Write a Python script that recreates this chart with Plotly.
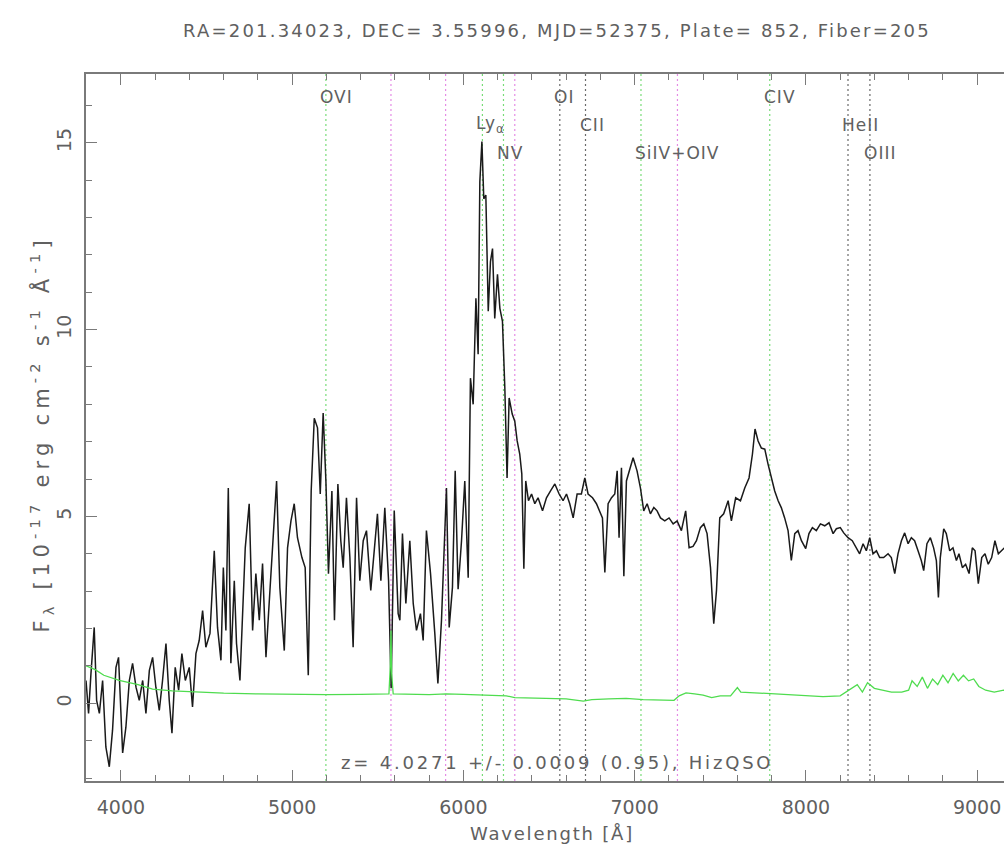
import plotly.graph_objects as go

# ---------------- data ----------------
wave = [3796, 3811, 3825, 3844, 3858, 3874, 3893, 3912, 3932, 3951, 3971, 3986, 4010, 4029, 4049,
        4068, 4088, 4107, 4127, 4146, 4166, 4185, 4204, 4224, 4243, 4263, 4282, 4298, 4317, 4337,
        4356, 4376, 4399, 4418, 4438, 4457, 4477, 4496, 4520, 4545, 4564, 4584, 4598, 4613, 4627,
        4642, 4662, 4675, 4695, 4710, 4726, 4749, 4769, 4788, 4808, 4827, 4847, 4862, 4885, 4909,
        4928, 4954, 4973, 4993, 5012, 5031, 5057, 5076, 5094, 5111, 5129, 5148, 5164, 5181, 5197,
        5212, 5232, 5247, 5267, 5284, 5298, 5317, 5337, 5356, 5376, 5395, 5415, 5434, 5459, 5479,
        5498, 5518, 5541, 5563, 5578, 5596, 5619, 5629, 5644, 5664, 5687, 5707, 5726, 5749, 5765,
        5784, 5808, 5833, 5851, 5872, 5888, 5901, 5917, 5936, 5952, 5969, 5989, 6008, 6028, 6041,
        6057, 6073, 6086, 6096, 6108, 6119, 6131, 6145, 6158, 6170, 6183, 6199, 6213, 6228, 6242,
        6255, 6267, 6285, 6300, 6314, 6329, 6341, 6353, 6364, 6380, 6398, 6417, 6436, 6462, 6485,
        6508, 6534, 6559, 6582, 6602, 6621, 6641, 6664, 6689, 6709, 6728, 6754, 6777, 6796, 6812,
        6826, 6845, 6865, 6884, 6898, 6909, 6923, 6937, 6952, 6972, 6991, 7014, 7034, 7053, 7073,
        7092, 7112, 7131, 7151, 7176, 7201, 7225, 7248, 7273, 7298, 7318, 7341, 7361, 7384, 7404,
        7423, 7443, 7462, 7478, 7497, 7520, 7546, 7565, 7590, 7618, 7643, 7668, 7688, 7703, 7721,
        7740, 7760, 7779, 7799, 7818, 7838, 7857, 7876, 7896, 7915, 7935, 7954, 7974, 7999, 8018,
        8038, 8061, 8085, 8110, 8135, 8159, 8178, 8201, 8221, 8246, 8271, 8295, 8314, 8334, 8353,
        8373, 8392, 8412, 8431, 8454, 8480, 8499, 8519, 8538, 8558, 8577, 8597, 8616, 8635, 8655,
        8674, 8688, 8707, 8727, 8746, 8762, 8774, 8785, 8805, 8820, 8840, 8859, 8879, 8894, 8914,
        8933, 8953, 8972, 8988, 9007, 9027, 9046, 9065, 9085, 9104, 9124, 9143, 9160, 9200]

flux = [0.61, -0.27, 0.80, 2.03, 0.08, -0.27, 0.61, -1.17, -1.70, -0.72, 0.96, 1.23, -1.33, -0.64, 0.61,
        1.07, 0.43, 0.08, 0.61, -0.27, 0.88, 1.23, 0.43, -0.19, 0.61, 1.60, 0.08, -0.80, 0.96, 0.35,
        1.33, 0.61, 0.96, -0.10, 1.33, 1.68, 2.48, 1.50, 1.87, 4.08, 2.03, 1.15, 3.63, 1.95, 5.76,
        1.07, 3.28, 1.60, 0.61, 2.40, 4.16, 5.34, 1.95, 3.47, 2.22, 3.74, 1.23, 2.40, 4.16, 5.95,
        3.10, 1.41, 4.16, 4.88, 5.34, 4.43, 3.90, 3.63, 0.75, 5.68, 7.63, 7.37, 5.60, 7.77, 5.95,
        3.47, 5.68, 2.22, 5.87, 4.35, 3.63, 5.50, 3.90, 1.50, 5.50, 3.28, 4.35, 4.62, 3.02, 4.16,
        5.07, 3.28, 5.23, 3.28, 0.40, 5.16, 2.40, 2.22, 4.54, 2.67, 4.35, 2.67, 1.95, 2.40, 1.68,
        4.62, 3.47, 1.87, 0.53, 2.22, 4.16, 5.76, 2.03, 3.10, 6.22, 3.05, 4.35, 5.95, 3.36, 8.70,
        8.00, 10.84, 9.34, 13.96, 15.03, 13.50, 13.60, 10.49, 11.82, 12.17, 10.30, 11.48, 10.57, 10.22, 8.43,
        6.03, 8.17, 7.74, 7.55, 7.02, 6.67, 6.14, 3.60, 5.95, 5.42, 5.60, 5.34, 5.50, 5.15, 5.50,
        5.68, 5.87, 5.60, 5.42, 5.60, 5.34, 4.96, 5.60, 5.60, 6.03, 5.60, 5.50, 5.34, 5.15, 4.96,
        3.50, 5.34, 5.50, 5.60, 6.22, 4.43, 6.30, 3.40, 5.95, 6.30, 6.57, 6.22, 5.76, 5.15, 5.34,
        5.07, 5.24, 5.15, 4.96, 4.88, 4.96, 4.80, 4.88, 4.62, 5.15, 4.16, 4.20, 4.35, 4.70, 4.80,
        4.54, 3.63, 2.13, 3.02, 4.96, 5.07, 5.42, 4.88, 5.50, 5.42, 5.76, 6.03, 6.67, 7.34, 7.02,
        6.83, 6.80, 6.40, 6.03, 5.68, 5.42, 5.23, 4.96, 4.62, 3.82, 4.54, 4.62, 4.35, 4.14, 4.54,
        4.70, 4.62, 4.80, 4.75, 4.83, 4.54, 4.67, 4.70, 4.56, 4.43, 4.35, 4.16, 4.00, 4.27, 4.08,
        4.43, 4.00, 4.08, 3.90, 3.90, 4.00, 3.90, 3.47, 4.00, 4.35, 4.56, 4.27, 4.43, 4.35, 4.08,
        3.82, 3.55, 4.27, 4.43, 4.16, 3.82, 2.83, 3.90, 4.67, 4.54, 4.08, 4.16, 3.82, 4.00, 3.63,
        3.72, 3.47, 4.16, 4.08, 3.20, 3.90, 4.00, 3.72, 3.90, 4.35, 4.00, 4.08, 4.16, 4.00]

err_wave = [3796, 3850, 3900, 3990, 4100, 4185, 4300, 4380, 4450, 4600, 4800, 5000, 5200, 5400,
            5565, 5573, 5577, 5581, 5590, 5800, 5900, 6000, 6100, 6250, 6300, 6400, 6500, 6600,
            6700, 6750, 6850, 6950, 7050, 7150, 7230, 7260, 7300, 7350, 7400, 7450, 7500, 7560,
            7600, 7620, 7700, 7800, 7900, 8000, 8100, 8200, 8250, 8300, 8330, 8360, 8400, 8450,
            8500, 8560, 8600, 8620, 8650, 8680, 8710, 8740, 8770, 8800, 8830, 8860, 8890, 8920,
            8950, 8980, 9010, 9050, 9100, 9155, 9200]
err_flux = [1.00, 0.90, 0.75, 0.61, 0.50, 0.38, 0.33, 0.31, 0.30, 0.27, 0.25, 0.24, 0.23, 0.24,
            0.25, 1.00, 1.95, 0.80, 0.25, 0.23, 0.25, 0.24, 0.22, 0.20, 0.15, 0.14, 0.12, 0.12,
            0.06, 0.10, 0.12, 0.13, 0.10, 0.10, 0.08, 0.20, 0.28, 0.25, 0.22, 0.15, 0.20, 0.20,
            0.42, 0.30, 0.28, 0.24, 0.22, 0.20, 0.18, 0.20, 0.35, 0.50, 0.30, 0.55, 0.40, 0.35,
            0.30, 0.30, 0.35, 0.60, 0.45, 0.70, 0.40, 0.65, 0.50, 0.75, 0.55, 0.80, 0.60, 0.75,
            0.60, 0.65, 0.45, 0.35, 0.30, 0.35, 0.30]

line_names = ["OVI", "Ly<sub>α</sub>", "NV", "OI", "CII", "SiIV+OIV", "CIV", "HeII", "OIII"]
line_waves = [5197, 6111, 6234, 6563, 6713, 7037, 7789, 8246, 8374]
line_kind = ["em", "em", "em", "abs", "abs", "em", "em", "abs", "abs"]
line_row = [0, 1, 2, 0, 1, 2, 0, 1, 2]
sky_waves = [5577, 5896, 6300, 7250]

title_text = "RA=201.34023, DEC= 3.55996, MJD=52375, Plate= 852, Fiber=205"
z_text = "z= 4.0271 +/- 0.0009 (0.95), HizQSO"
x_title = "Wavelength [Å]"
y_title = "F<sub>λ</sub> [10<sup>-17</sup> erg cm<sup>-2</sup> s<sup>-1</sup> Å<sup>-1</sup>]"

# ---------------- figure ----------------
XR = [3796, 9157]
YR = [-2.08, 16.84]
FONT = "DejaVu Sans"
TXT = "#606060"


def spaced(text, px):
    return '<span style="letter-spacing:%spx">%s</span>' % (px, text)


fig = go.Figure()


def vlines(xs, color):
    xx, yy = [], []
    for w in xs:
        xx += [w, w, None]
        yy += [YR[0], YR[1], None]
    fig.add_trace(go.Scatter(x=xx, y=yy, mode="lines", hoverinfo="skip",
                             line=dict(color=color, width=1.2, dash="2px,3px"), showlegend=False))


vlines([w for w, k in zip(line_waves, line_kind) if k == "em"], "#78dc78")
vlines([w for w, k in zip(line_waves, line_kind) if k == "abs"], "#6a6a6a")
vlines(sky_waves, "#e58be5")

fig.add_trace(go.Scatter(x=wave, y=flux, mode="lines", line=dict(color="#1a1a1a", width=1.5),
                         showlegend=False))
fig.add_trace(go.Scatter(x=err_wave, y=err_flux, mode="lines", line=dict(color="#4fdc4f", width=1.3),
                         showlegend=False))

row_y = [0.9675, 0.928, 0.888]
ann = []
for name, w, r in zip(line_names, line_waves, line_row):
    ann.append(dict(x=w, y=row_y[r], xref="x", yref="paper", text=spaced(name, 1), showarrow=False,
                    xanchor="left", yanchor="middle", xshift=-8,
                    font=dict(family=FONT, size=17, color=TXT)))

ann.append(dict(x=0.513, y=1.062, xref="paper", yref="paper", text=spaced(title_text, 2.2), showarrow=False,
                xanchor="center", yanchor="middle", font=dict(family=FONT, size=18, color=TXT)))
ann.append(dict(x=0.513, y=0.026, xref="paper", yref="paper", text=spaced(z_text, 2.8), showarrow=False,
                xanchor="center", yanchor="middle", font=dict(family=FONT, size=18, color=TXT)))
ann.append(dict(x=0.508, y=-0.074, xref="paper", yref="paper", text=spaced(x_title, 1.8), showarrow=False,
                xanchor="center", yanchor="middle", font=dict(family=FONT, size=18, color=TXT)))
ann.append(dict(x=-0.049, y=0.49, xref="paper", yref="paper", text=spaced(y_title, 5.2),
                showarrow=False, textangle=-90, xanchor="center", yanchor="middle",
                font=dict(family=FONT, size=21, color=TXT)))

axis_common = dict(showline=True, linecolor="#7a7a7a", linewidth=1.6, ticks="inside",
                   tickcolor="#7a7a7a", tickwidth=1.4, ticklen=11, showgrid=False, zeroline=False,
                   tickfont=dict(family=FONT, size=19, color=TXT), automargin=False)

fig.update_layout(
    width=1004, height=857,
    margin=dict(l=86, r=0, t=74, b=76),
    paper_bgcolor="white", plot_bgcolor="white",
    annotations=ann,
    xaxis=dict(range=XR, tickvals=[4000, 5000, 6000, 7000, 8000, 9000], mirror="ticks",
               minor=dict(dtick=200, tick0=4000, ticks="inside", ticklen=6, tickcolor="#7a7a7a", tickwidth=1.2),
               ticklabelstandoff=8, **axis_common),
    yaxis=dict(range=YR, tickvals=[0, 5, 10, 15], tickangle=-90, mirror=False,
               minor=dict(dtick=1, tick0=0, ticks="inside", ticklen=6, tickcolor="#7a7a7a", tickwidth=1.2),
               ticklabelstandoff=6, **axis_common),
)

fig.write_html("out.html")
